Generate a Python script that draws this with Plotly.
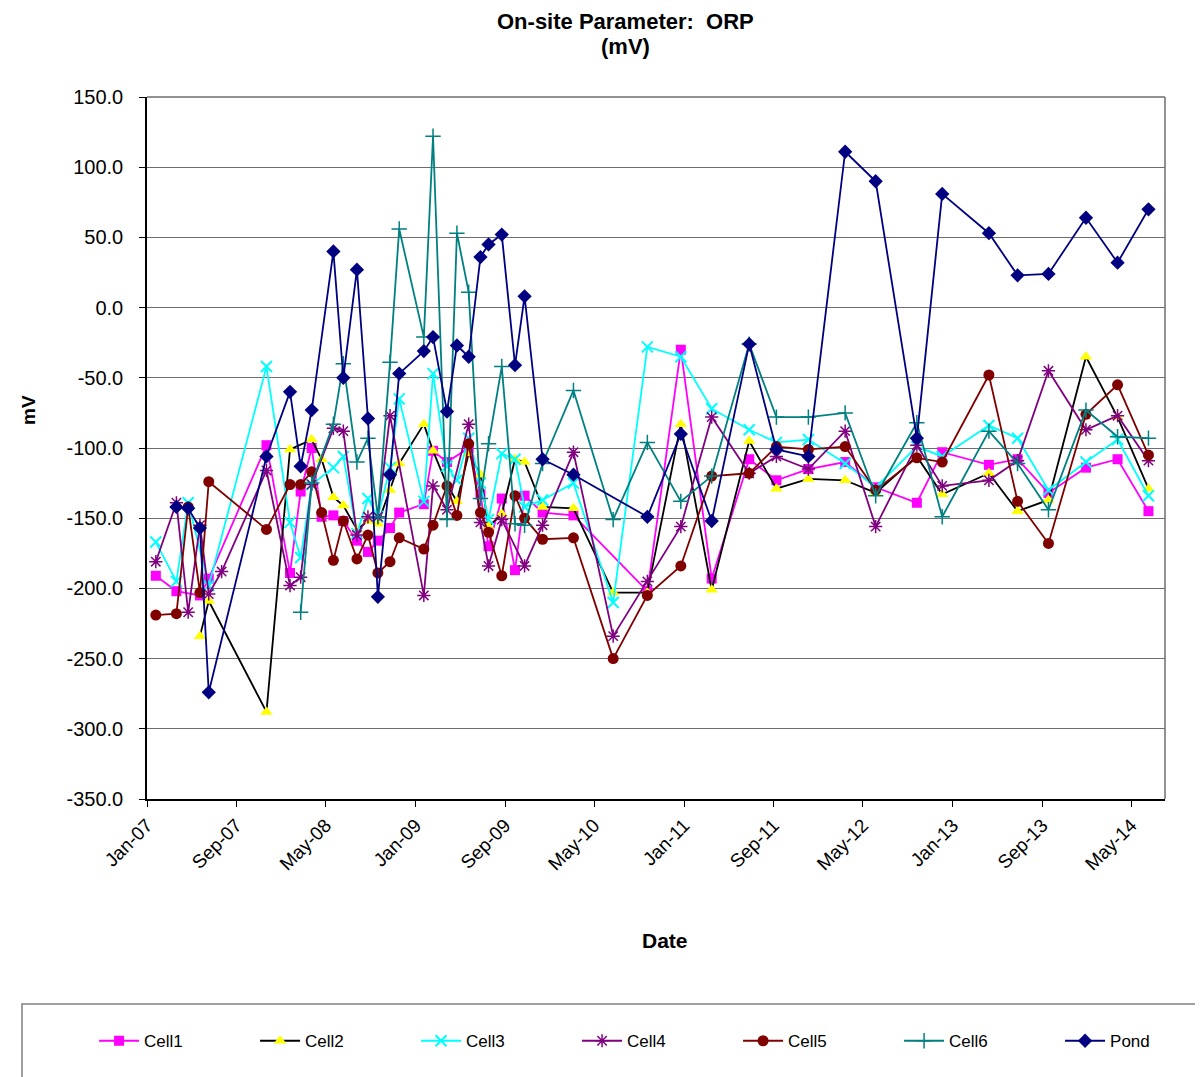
import plotly.graph_objects as go

# Sampling dates (shared by all series; None = no reading that day)
dates = [
    "2007-01-25", "2007-03-22", "2007-04-23", "2007-05-25", "2007-06-18", "2007-07-23", "2007-11-22",
    "2008-01-25", "2008-02-23", "2008-03-24", "2008-04-20", "2008-05-22", "2008-06-18", "2008-07-25",
    "2008-08-24", "2008-09-20", "2008-10-23", "2008-11-17",
    "2009-01-23", "2009-02-17", "2009-03-27", "2009-04-23", "2009-05-25", "2009-06-26", "2009-07-18",
    "2009-08-23", "2009-09-28", "2009-10-24", "2009-12-12",
    "2010-03-06", "2010-06-22", "2010-09-23", "2010-12-23",
    "2011-03-17", "2011-06-27", "2011-09-09", "2011-12-05",
    "2012-03-14", "2012-06-05", "2012-09-25", "2012-12-03",
    "2013-04-09", "2013-06-26", "2013-09-18", "2013-12-29",
    "2014-03-25", "2014-06-17",
]

N = None
cell1 = [-191, -202, N, -205, -193, N, -98,
         -189, -131, -100, -149, -148, -152, -166, -174, -166, -157, -146,
         -140, -102, -110, N, -100, -133, -170, -136, -187, -134, -146,
         -148, N, -202, -30,
         -193, -108, -123, -115,
         -110, -128, -139, -103,
         -112, -108, -132, -114,
         -108, -145]
cell2 = [N, N, N, -234, -209, N, -288,
         -101, N, -94, -108, -135, -141, -158, -152, -154, -130, -111,
         -83, -102, -126, -138, -104, -119, -156, -147, -108, -110, -142,
         -143, -203, -203, -83,
         -201, -95, -129, -122,
         -123, -132, -106, -133,
         -118, -145, -137, -35,
         -78, -129]
cell3 = [-167, -195, -139, N, -198, N, -42,
         -153, -178, -126, N, -114, -106, -161, -136, -149, -114, -65,
         -138, -47, -113, -123, -93, -125, -151, -104, -108, -142, -137,
         -125, -210, -28, -35,
         -72, -87, -96, -94,
         -111, -128, -99, -106,
         -84, -93, -130, -110,
         -94, -134]
cell4 = [-181, -139, -217, -155, -204, -188, -116,
         -198, -192, -126, N, -86, -88, -162, -149, -149, -77, N,
         -205, -127, -144, N, -83, -153, -184, -151, N, -184, -155,
         -103, -234, -195, -156,
         -78, -118, -106, -115,
         -88, -156, -98, -127,
         -123, -109, -45, -87,
         -77, -109]
cell5 = [-219, -218, -142, -203, -124, N, -158,
         -126, -126, -117, -146, -180, -152, -179, -162, -189, -181, -164,
         -172, -155, -127, -148, -97, -146, -160, -191, -134, -150, -165,
         -164, -250, -205, -184,
         -120, -118, -99, -101,
         -99, -130, -107, -110,
         -48, -138, -168, -76,
         -55, -105]
cell6 = [N, N, N, N, N, N, N,
         N, -217, -125, N, -83, -40, -110, -93, -149, -39, 56,
         -21, 122, -151, 53, 11, -136, -97, -42, -154, -155, -111,
         -59, -151, -96, -138,
         -120, -26, -78, -78,
         -75, -134, -82, -149,
         -88, -111, -144, -73,
         -92, -93]
pond = [N, -142, -143, -157, -274, N, -106,
        -60, -113, -73, N, 40, -50, 27, -79, -206, -119, -47,
        -31, -21, -74, -27, -35, 36, 45, 52, -41, 8, -108,
        -119, N, -149, -90,
        -152, -26, -101, -106,
        111, 90, -93, 81,
        53, 23, 24, 64,
        32, 70]

y_ticks = [150, 100, 50, 0, -50, -100, -150, -200, -250, -300, -350]
y_labels = ["150.0", "100.0", "50.0", "0.0", "-50.0", "-100.0", "-150.0",
            "-200.0", "-250.0", "-300.0", "-350.0"]

FONT = "Liberation Sans, Arial, sans-serif"

SERIES = [
    ("Cell1", cell1, "#FF00FF", dict(symbol="square", color="#FF00FF", size=10)),
    ("Cell2", cell2, "#000000", dict(symbol="triangle-up", color="#FFFF00", size=11)),
    ("Cell3", cell3, "#00FFFF", dict(symbol="x-thin-open", color="#00FFFF", size=11,
                                     line=dict(color="#00FFFF", width=2))),
    ("Cell4", cell4, "#800080", dict(symbol="asterisk-open", color="#800080", size=11,
                                     line=dict(color="#800080", width=1.5))),
    ("Cell5", cell5, "#800000", dict(symbol="circle", color="#800000", size=11)),
    ("Cell6", cell6, "#008080", dict(symbol="cross-thin-open", color="#008080", size=11,
                                     line=dict(color="#008080", width=1.5))),
    ("Pond", pond, "#000080", dict(symbol="diamond", color="#000080", size=11)),
]

fig = go.Figure()
for name, vals, lc, mk in SERIES:
    fig.add_trace(go.Scatter(
        x=dates, y=vals, name=name,
        mode="lines+markers",
        connectgaps=True,
        line=dict(color=lc, width=1.8),
        marker=mk,
    ))

# page body has an 8px margin, so the figure is 8px smaller and the
# plot area lands at x 147..1165, y 97..799 in the window
fig.update_layout(
    width=1195, height=1069,
    paper_bgcolor="white", plot_bgcolor="white",
    font=dict(family=FONT, color="black", size=18),
    margin=dict(l=139, r=38, t=89, b=278, autoexpand=False),
    showlegend=True,
    legend=dict(
        orientation="h",
        x=-0.052, xanchor="left",
        y=-0.345, yanchor="middle",
        entrywidth=106, entrywidthmode="pixels",
        font=dict(size=17, family=FONT),
        bgcolor="rgba(0,0,0,0)",
        itemwidth=40,
    ),
    xaxis=dict(
        type="date",
        range=["2007-01-01", "2014-08-01"],
        tick0="2007-01-01", dtick="M8",
        tickformat="%b-%y",
        tickangle=-45,
        tickfont=dict(size=19),
        ticks="outside", ticklen=6, tickcolor="black",
        showgrid=False,
        showline=True, linecolor="black", linewidth=1.5,
        automargin=False,
    ),
    yaxis=dict(
        range=[-350, 150],
        tickvals=y_ticks, ticktext=y_labels,
        tickfont=dict(size=20),
        ticks="outside", ticklen=6, tickcolor="black",
        ticklabelstandoff=12,
        showgrid=True, gridcolor="#6E6E6E", gridwidth=1.3,
        zeroline=False,
        showline=True, linecolor="black", linewidth=1.5,
        automargin=False,
    ),
    annotations=[
        dict(text="<b>On-site Parameter:  ORP</b>", xref="paper", yref="paper",
             x=(625 - 147) / 1018, y=(799 - 21) / 702,
             xanchor="center", yanchor="middle", showarrow=False,
             font=dict(size=22, family=FONT)),
        dict(text="<b>(mV)</b>", xref="paper", yref="paper",
             x=(625 - 147) / 1018, y=(799 - 47) / 702,
             xanchor="center", yanchor="middle", showarrow=False,
             font=dict(size=22, family=FONT)),
        dict(text="<b>Date</b>", xref="paper", yref="paper",
             x=(665 - 147) / 1018, y=(799 - 940) / 702,
             xanchor="center", yanchor="middle", showarrow=False,
             font=dict(size=21, family=FONT)),
        dict(text="<b>mV</b>", xref="paper", yref="paper",
             x=(28 - 147) / 1018, y=(799 - 410) / 702,
             xanchor="center", yanchor="middle", showarrow=False,
             textangle=-90, font=dict(size=19, family=FONT)),
    ],
    shapes=[
        # right/top frame of the plot area
        dict(type="line", xref="paper", yref="paper", x0=1, x1=1, y0=0, y1=1,
             line=dict(color="#6E6E6E", width=1.5)),
        dict(type="line", xref="paper", yref="paper", x0=0, x1=1, y0=1, y1=1,
             line=dict(color="#6E6E6E", width=1.5)),
        # legend box, running off the page like in the source
        dict(type="rect", xref="paper", yref="paper",
             x0=(22 - 147) / 1018, x1=(1215 - 147) / 1018,
             y0=(799 - 1090) / 702, y1=(799 - 1004) / 702,
             line=dict(color="#808080", width=1.5)),
    ],
)

fig.write_html("out.html")
